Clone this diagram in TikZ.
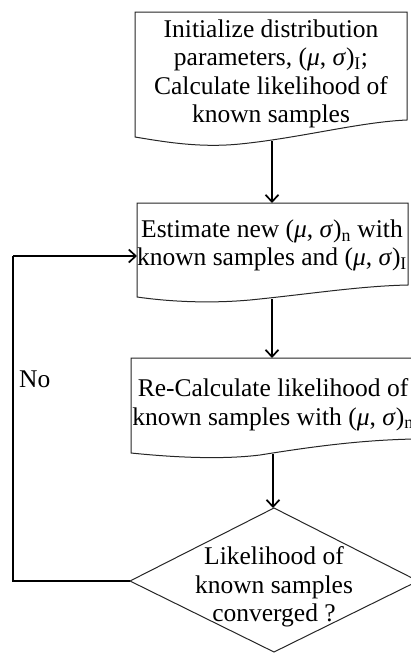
\documentclass[tikz,border=0pt]{standalone}
\usepackage{fontspec}
\setmainfont{Liberation Serif}
\usetikzlibrary{arrows.meta}
\newcommand{\musig}{(\textit{μ}, \textit{σ})}
\tikzset{
  boxshape/.style={draw=black!85, line width=1pt, fill=white},
  txt/.style={font=\fontsize{25.5}{28.5}\selectfont, align=center, inner sep=0pt},
  conn/.style={line width=1.9pt, -{Straight Barb[length=7pt,width=13pt,line width=1.7pt]}},
  loopline/.style={line width=1.9pt, line join=miter}
}
\begin{document}
\begin{tikzpicture}[x=1pt,y=-1pt]
\useasboundingbox (0,0) rectangle (411,653);
\clip (0,0) rectangle (411,653);

% shapes
\draw[boxshape] (135,12) -- (407,12) -- (407,120)
  .. controls (360,122) and (300,138) .. (240,144)
  .. controls (200,148) and (165,142) .. (135,137) -- cycle;
\draw[boxshape] (137,203) -- (408,203) -- (408,285)
  .. controls (360,286) and (310,294) .. (250,300)
  .. controls (205,304) and (165,301) .. (137,297) -- cycle;
\draw[boxshape] (131,358) -- (415,358) -- (415,439)
  .. controls (360,440) and (310,447) .. (260,455)
  .. controls (220,460) and (170,457) .. (131,453) -- cycle;
\draw[boxshape] (274,508) -- (418,581) -- (274,652) -- (130,581) -- cycle;

% anchor points
\coordinate (b1out) at (272,141);
\coordinate (b2in) at (272,203);
\coordinate (b2left) at (137,256);
\coordinate (b2out) at (272,299);
\coordinate (b3in) at (272,358);
\coordinate (b3out) at (273,454);
\coordinate (dtop) at (273,508);
\coordinate (dleft) at (130,581);
\coordinate (cornerA) at (13,581);
\coordinate (cornerB) at (13,256);

% texts
\node[txt] (t1) at (271,74) {Initialize distribution\\parameters, \musig\textsubscript{I};\\Calculate likelihood of\\known samples};
\node[txt] (t2) at (272,245.5) {Estimate new \musig\textsubscript{n} with\\known samples and \musig\textsubscript{I}};
\node[txt] (t3) at (273,404.5) {Re-Calculate likelihood of\\known samples with \musig\textsubscript{n}};
\node[txt] (t4) at (274,587) {Likelihood of\\known samples\\converged ?};
\node[txt, anchor=base west] (no) at (19,387) {No};

% connectors
\draw[conn] (b1out) -- (b2in);
\draw[conn] (b2out) -- (b3in);
\draw[conn] (b3out) -- (dtop);
\draw[loopline] (dleft) -- (cornerA) -- (cornerB);
\draw[conn] (cornerB) -- (b2left);
\end{tikzpicture}
\end{document}
